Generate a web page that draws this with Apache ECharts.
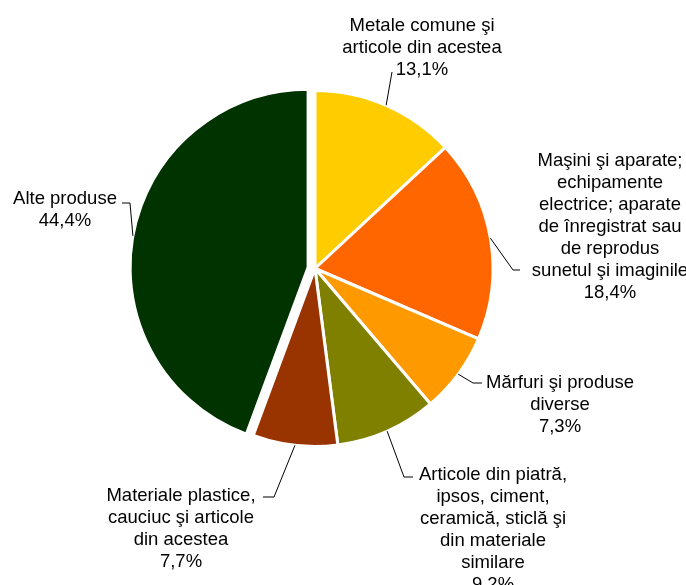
<!DOCTYPE html>
<html>
<head>
<meta charset="utf-8">
<script src="https://cdn.jsdelivr.net/npm/echarts@6/dist/echarts.min.js"></script>
<style>
  html, body { margin: 0; padding: 0; background: #fff; }
  #chart { width: 686px; height: 585px; }
</style>
</head>
<body>
<div id="chart"></div>
<script>
  // categorii (cu rupturile de rand din grafic) si ponderi in %
  var names = [
    'Metale comune şi\narticole din acestea',
    'Maşini şi aparate;\nechipamente\nelectrice; aparate\nde înregistrat sau\nde reprodus\nsunetul şi imaginile',
    'Mărfuri şi produse\ndiverse',
    'Articole din piatră,\nipsos, ciment,\nceramică, sticlă şi\ndin materiale\nsimilare',
    'Materiale plastice,\ncauciuc şi articole\ndin acestea',
    'Alte produse'
  ]
  var values = [13.1, 18.4, 7.3, 9.2, 7.7, 44.4]
  var colors = ['#ffcc00', '#ff6600', '#ff9900', '#808000', '#993300', '#003300']
  var explodedIndex = 5

  var pieCenter = [315, 268.5]
  var pieRadius = 178
  var explode = 7

  // pozitia etichetelor (centrul blocului de text)
  var labelPos = [[422, 48], [610, 227], [560, 405], [493, 530], [181, 529], [65, 210]]
  // cotul si capatul liniei de legatura, langa text
  var guidePts = [
    [[392, 72], [392, 72]],
    [[513, 270], [520, 270]],
    [[473, 383], [482, 383]],
    [[404, 477], [413, 477]],
    [[274, 497], [263, 497]],
    [[130, 203], [122, 203]]
  ]

  var chart = echarts.init(document.getElementById('chart'))

  var fmt = function (p) {
    return p.name + '\n' + p.value.toFixed(1).replace('.', ',') + '%'
  }

  var option = {
    animation: false,
    series: [
      {
        // felii vizibile, "Alte produse" detasata
        type: 'pie',
        center: pieCenter,
        radius: pieRadius,
        startAngle: 90,
        clockwise: true,
        selectedMode: 'single',
        selectedOffset: explode,
        silent: true,
        itemStyle: {
          borderColor: '#ffffff',
          borderWidth: 3
        },
        label: { show: false },
        labelLine: { show: false },
        data: names.map(function (n, i) {
          return {
            name: n,
            value: values[i],
            selected: i === explodedIndex,
            itemStyle: { color: colors[i] }
          }
        })
      },
      {
        // aceeasi impartire, transparenta, doar pentru etichete
        type: 'pie',
        center: pieCenter,
        radius: pieRadius,
        startAngle: 90,
        clockwise: true,
        silent: true,
        z: 3,
        itemStyle: {
          color: 'rgba(0,0,0,0)',
          borderWidth: 0
        },
        label: {
          show: true,
          position: 'outside',
          fontFamily: 'Liberation Sans, Arial, sans-serif',
          fontSize: 18.5,
          lineHeight: 22,
          color: '#000',
          align: 'center',
          formatter: fmt
        },
        labelLine: {
          show: true,
          length: 10,
          length2: 8,
          lineStyle: { color: '#000', width: 1 }
        },
        labelLayout: function (params) {
          var i = params.dataIndex
          var pos = labelPos[i]
          var edge = params.labelLinePoints ? params.labelLinePoints[0].slice() : guidePts[i][0]
          if (i === explodedIndex) {
            var dx = edge[0] - pieCenter[0]
            var dy = edge[1] - pieCenter[1]
            var len = Math.sqrt(dx * dx + dy * dy)
            edge = [edge[0] + dx / len * explode, edge[1] + dy / len * explode]
          }
          return {
            x: pos[0],
            y: pos[1],
            align: 'center',
            verticalAlign: 'middle',
            labelLinePoints: [edge, guidePts[i][0], guidePts[i][1]]
          }
        },
        data: names.map(function (n, i) {
          return { name: n, value: values[i] }
        })
      }
    ]
  }

  chart.setOption(option)
</script>
</body>
</html>
